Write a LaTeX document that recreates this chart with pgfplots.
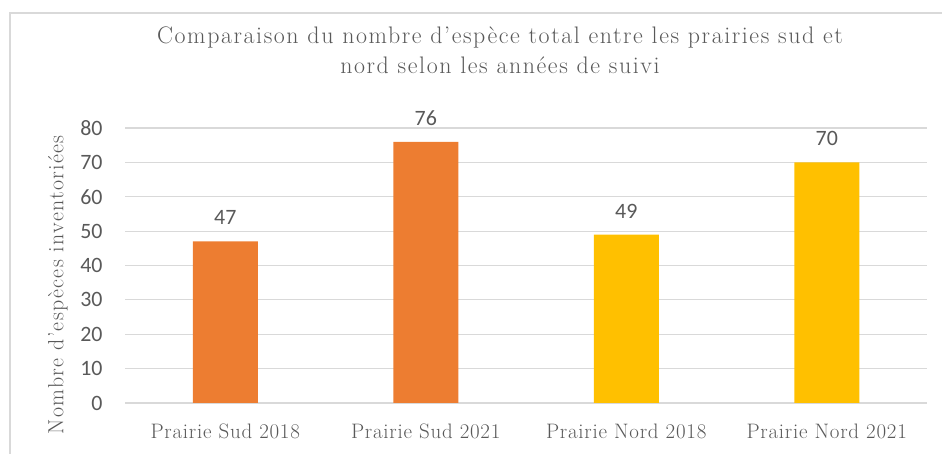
\documentclass[border=0pt]{standalone}
\usepackage{fontspec}
\usepackage{pgfplots}
\pgfplotsset{compat=1.18}
\newfontfamily\carlito{Carlito}
\newfontfamily\titlefont{Latin Modern Roman}[LetterSpace=6.6]
\newfontfamily\catfont{Latin Modern Roman}[LetterSpace=3.6]
\newfontfamily\ylabfont{Latin Modern Roman}[LetterSpace=6]
\definecolor{txt}{HTML}{595959}
\definecolor{gridg}{HTML}{D9D9D9}
\definecolor{orangebar}{HTML}{ED7D31}
\definecolor{goldbar}{HTML}{FFC000}
\begin{document}
\begin{tikzpicture}
\useasboundingbox (0bp,0bp) rectangle (942bp,454bp);
\draw[gridg, line width=1.5bp] (10bp,0bp) -- (10bp,441bp) -- (942bp,441bp);
\node[align=center, text=txt, font=\titlefont\fontsize{24}{30}\selectfont] at (500bp,404bp)
  {Comparaison du nombre d’espèce total entre les prairies sud et\\nord selon les années de suivi};
\begin{axis}[
  at={(125bp,51bp)}, anchor=south west,
  scale only axis, width=802bp, height=275bp,
  xmin=-0.5, xmax=3.5, ymin=0, ymax=80,
  ybar, bar width=65bp,
  xtick={0,1,2,3},
  xticklabels={Prairie Sud 2018, Prairie Sud 2021, Prairie Nord 2018, Prairie Nord 2021},
  ytick={0,10,...,80},
  ymajorgrids, grid style={gridg, line width=1.2bp},
  axis line style={draw=none},
  major tick length=0pt,
  /pgf/number format/assume math mode=true,
  yticklabel style={font=\carlito\fontsize{22}{22}\selectfont, text=txt, anchor=east, xshift=-19bp},
  xticklabel style={font=\catfont\fontsize{21}{21}\selectfont, text=txt, yshift=-17bp},
  every axis y label/.style={at={(rel axis cs:0,0.43)}, xshift=-67bp, rotate=90, anchor=center, font=\ylabfont\fontsize{22}{22}\selectfont, text=txt},
  ylabel={Nombre d’espèces inventoriées},
  nodes near coords,
  every node near coord/.append style={font=\carlito\fontsize{22}{22}\selectfont, text=txt, yshift=13bp},
  clip=false,
]
\addplot[fill=orangebar, draw=none, bar shift=0pt] coordinates {(0,47) (1,76)};
\addplot[fill=goldbar, draw=none, bar shift=0pt] coordinates {(2,49) (3,70)};
\end{axis}
\end{tikzpicture}
\end{document}
